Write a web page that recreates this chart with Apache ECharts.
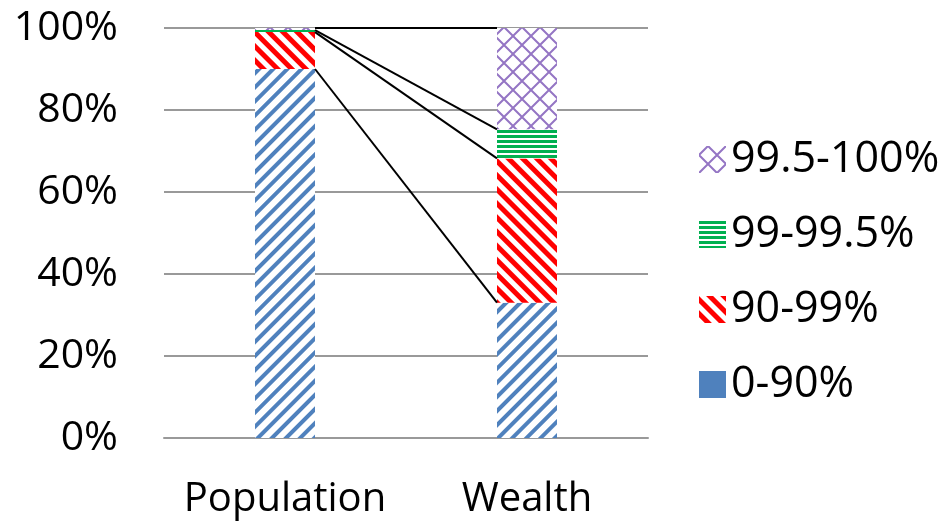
<!DOCTYPE html>
<html>
<head>
<meta charset="utf-8">
<script src="https://cdn.jsdelivr.net/npm/echarts@6/dist/echarts.min.js"></script>
<style>
  html, body { margin: 0; padding: 0; background: #fff; }
  #chart { width: 946px; height: 522px; }
</style>
</head>
<body>
<div id="chart"></div>
<script>
// data (share of total, %)
const categories = ['Population', 'Wealth'];
const seriesNames = ['0-90%', '90-99%', '99-99.5%', '99.5-100%'];
const bottom90 = [90, 33.0];
const next9 = [9, 35.2];
const next05 = [0.5, 7.1];
const top05 = [0.5, 24.7];
const yMin = 0;
const yMax = 100;
const yStep = 20;

const FONT = '"Open Sans", sans-serif';
const GRID = { left: 164, right: 298, top: 28, bottom: 84 };
const BAR_W = 60;

const chart = echarts.init(document.getElementById('chart'));

// bar patterns
const decals = {
	'0-90%': { symbol: 'rect', dashArrayX: [1, 0], dashArrayY: [4, 6], rotation: -Math.PI / 4, color: '#4F81BD' },
	'90-99%': { symbol: 'rect', dashArrayX: [1, 0], dashArrayY: [5, 5], rotation: Math.PI / 4, color: '#FF0000' },
	'99-99.5%': { symbol: 'rect', dashArrayX: [1, 0], dashArrayY: [2.5, 1.5], rotation: 0, color: '#00B050' },
	'99.5-100%': { symbol: 'emptyDiamond', symbolSize: 1, dashArrayX: [18, 0], dashArrayY: [18, 0], color: '#9475C4' },
};
const values = [bottom90, next9, next05, top05];

// connector lines between cumulative boundaries
const bandW = (946 - GRID.left - GRID.right) / categories.length;
const half = BAR_W / 2 / bandW;
const cum = [0, 0];
const connectors = values.map((arr, k) => {
	cum[0] += arr[0];
	cum[1] += arr[1];
	return {
		name: 'link' + k,
		type: 'line',
		xAxisIndex: 1,
		yAxisIndex: 0,
		symbol: 'none',
		silent: true,
		z: 5,
		lineStyle: { color: '#000', width: 2 },
		data: [[half, cum[0]], [1 - half, cum[1]]],
	};
});

const option = {
	animation: false,
	backgroundColor: '#fff',
	grid: GRID,
	legend: {
		orient: 'vertical',
		left: 694,
		top: 133,
		icon: 'rect',
		itemWidth: 27,
		itemHeight: 27,
		itemGap: 32,
		textStyle: { fontSize: 43, color: '#000', fontFamily: FONT },
		data: [
			{ name: '99.5-100%' },
			{ name: '99-99.5%' },
			{ name: '90-99%' },
			{ name: '0-90%', itemStyle: { color: '#4F81BD', decal: { symbol: 'none' } } },
		],
	},
	xAxis: [
		{
			type: 'category',
			data: categories,
			axisLine: { lineStyle: { color: '#999', width: 2 } },
			axisTick: { show: false },
			axisLabel: { interval: 0, fontSize: 40, color: '#000', fontFamily: FONT, margin: 42 },
		},
		{ type: 'value', min: -0.5, max: 1.5, show: false },
	],
	yAxis: {
		type: 'value',
		min: yMin,
		max: yMax,
		interval: yStep,
		axisLine: { show: true, lineStyle: { color: '#999', width: 2 } },
		axisTick: { show: true, length: 15, lineStyle: { color: '#999', width: 2 } },
		splitLine: { lineStyle: { color: '#999', width: 2 } },
		axisLabel: { fontSize: 41, color: '#000', fontFamily: FONT, margin: 46, formatter: '{value}%' },
	},
	series: seriesNames.map((name, i) => ({
		name,
		type: 'bar',
		stack: 'total',
		barWidth: BAR_W,
		itemStyle: { color: '#fff', decal: decals[name] },
		data: values[i],
	})).concat(connectors),
};

chart.setOption(option);
</script>
</body>
</html>
